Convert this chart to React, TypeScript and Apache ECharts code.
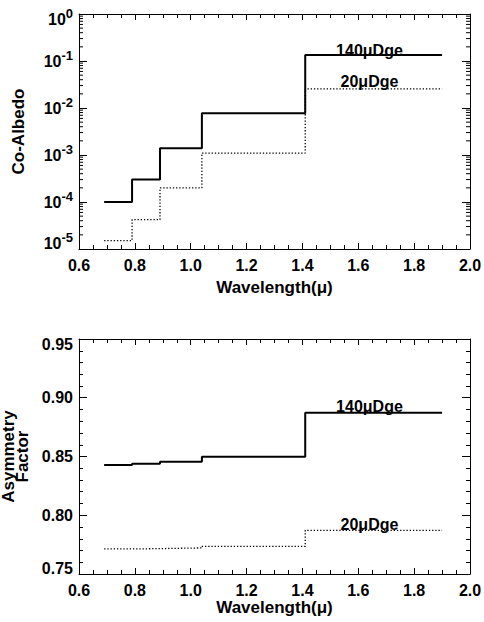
import React, { useEffect, useRef } from 'react';
import * as echarts from 'echarts';

// ---- data ----
const binEdges = [0.69, 0.79, 0.89, 1.04, 1.41, 1.9];
const coAlbedo140 = [1.0e-4, 3.0e-4, 1.4e-3, 7.7e-3, 0.134];
const coAlbedo20 = [1.5e-5, 4.2e-5, 2.0e-4, 1.1e-3, 0.0255];
const asym140 = [0.8428, 0.8439, 0.8456, 0.8498, 0.8873];
const asym20 = [0.7713, 0.7716, 0.7722, 0.7735, 0.7872];
const xRange = [0.6, 2.0];
const xStep = 0.2;
const coAlbedoRange = [1e-5, 1];
const logDecades = [-5, -4, -3, -2, -1];
const logMinorMultipliers = [2, 3, 4, 5, 6, 7, 8, 9];
const asymRange = [0.75, 0.95];
const asymStep = 0.05;
const seriesNames = ['140μDge', '20μDge'];
const labelX = 1.64;
const xTitle = 'Wavelength(μ)';
const yTitleTop = 'Co-Albedo';
const yTitleBottom = 'Asymmetry\nFactor';

const FONT = '"Liberation Sans", Arial, Helvetica, sans-serif';
const BLACK = '#000';

function stepData(edges: number[], vals: number[]) {
  return edges.map((x, i) => [x, vals[Math.min(i, vals.length - 1)]]);
}

const txt = { fontFamily: FONT, fontWeight: 'bold' as const, color: BLACK };

function xAxes(gridIndex: number, nameGap: number) {
  const common = {
    type: 'value',
    gridIndex,
    min: xRange[0],
    max: xRange[1],
    interval: xStep,
    splitLine: { show: false },
    axisLine: { show: true, onZero: false, lineStyle: { color: BLACK, width: 1 } },
    axisTick: { show: true, inside: true, length: 6, lineStyle: { color: BLACK } },
    minorTick: { show: true, splitNumber: 4, length: 4, lineStyle: { color: BLACK } },
  };
  return [
    {
      ...common,
      position: 'bottom',
      axisLabel: { ...txt, fontSize: 16, margin: 8, formatter: (v: number) => v.toFixed(1) },
      name: xTitle,
      nameLocation: 'middle',
      nameGap,
      nameMoveOverlap: false,
      nameTextStyle: { ...txt, fontSize: 17 },
    },
    { ...common, position: 'top', axisLabel: { show: false } },
  ];
}

const supRich = {
  p: { fontSize: 1, lineHeight: 38 },
  b: { ...txt, fontSize: 16, lineHeight: 28, height: 16, verticalAlign: 'middle' },
  s: { ...txt, fontSize: 13, height: 16, verticalAlign: 'top' },
  bt: { ...txt, fontSize: 16, height: 28, verticalAlign: 'bottom' },
  st: { ...txt, fontSize: 13, height: 36, verticalAlign: 'top' },
  bb: { ...txt, fontSize: 16, height: 26, verticalAlign: 'top' },
  sb: { ...txt, fontSize: 13, height: 14, verticalAlign: 'top' },
};

function logLabel(v: number) {
  const e = Math.round(Math.log10(v));
  if (v >= coAlbedoRange[1] * 0.999) return `{p| }{bt|10}{st|${e}}`;
  if (v <= coAlbedoRange[0] * 1.001) return `{p| }{bb|10}{sb|${e}}`;
  return `{b|10}{s|${e}}`;
}

function linLabel(v: number) {
  const s = v.toFixed(2);
  if (Math.abs(v - asymRange[1]) < 1e-6) return `{hi|${s}}`;
  if (Math.abs(v - asymRange[0]) < 1e-6) return `{lo|${s}}`;
  return `{n|${s}}`;
}

const linRich = {
  n: { ...txt, fontSize: 16 },
  hi: { ...txt, fontSize: 16, padding: [10, 0, 0, 0] },
  lo: { ...txt, fontSize: 16, padding: [0, 0, 12, 0] },
};

function yAxesTop() {
  const common = {
    type: 'log',
    logBase: 10,
    gridIndex: 0,
    min: coAlbedoRange[0],
    max: coAlbedoRange[1],
    splitLine: { show: false },
    axisLine: { show: true, onZero: false, lineStyle: { color: BLACK, width: 1 } },
    axisTick: { show: true, inside: true, length: 8, lineStyle: { color: BLACK } },
    minorTick: { show: false },
  };
  return [
    {
      ...common,
      position: 'left',
      axisLabel: { ...txt, fontSize: 16, margin: 6, formatter: logLabel, rich: supRich },
      name: yTitleTop,
      nameLocation: 'middle',
      nameGap: 52,
      nameMoveOverlap: false,
      nameTextStyle: { ...txt, fontSize: 17 },
    },
    { ...common, position: 'right', axisLabel: { show: false } },
  ];
}

function yAxesBottom() {
  const common = {
    type: 'value',
    gridIndex: 1,
    min: asymRange[0],
    max: asymRange[1],
    interval: asymStep,
    splitLine: { show: false },
    axisLine: { show: true, onZero: false, lineStyle: { color: BLACK, width: 1 } },
    axisTick: { show: true, inside: true, length: 8, lineStyle: { color: BLACK } },
    minorTick: { show: true, splitNumber: 5, length: 4, lineStyle: { color: BLACK } },
  };
  return [
    {
      ...common,
      position: 'left',
      axisLabel: { ...txt, fontSize: 16, margin: 6, formatter: linLabel, rich: linRich },
      name: yTitleBottom,
      nameLocation: 'middle',
      nameGap: 50,
      nameMoveOverlap: false,
      nameTextStyle: { ...txt, fontSize: 17, lineHeight: 14 },
    },
    { ...common, position: 'right', axisLabel: { show: false } },
  ];
}

function annot(text: string, y: number, dy: number) {
  return {
    silent: true,
    symbol: 'circle',
    symbolSize: 1,
    itemStyle: { color: 'rgba(0,0,0,0)' },
    label: { show: true, position: 'inside', offset: [0, dy], formatter: text, ...txt, fontSize: 16 },
    data: [{ coord: [labelX, y] }],
  };
}

// minor ticks of the log axis at k * 10^e (axis decoration, placed through the axis scale)
const logMinorTicks: number[][] = [];
logDecades.forEach((e) => logMinorMultipliers.forEach((k) => logMinorTicks.push([xRange[0], k * Math.pow(10, e)])));

const solid = { color: BLACK, width: 2 };
const dotted = { color: BLACK, width: 1.3, type: [1.3, 1.9] };

export default function App() {
  const ref = useRef<HTMLDivElement>(null);
  useEffect(() => {
    if (!ref.current) return;
    const chart = echarts.init(ref.current, undefined, { renderer: 'svg' });
    const n = coAlbedo140.length - 1;
    chart.setOption({
      animation: false,
      backgroundColor: '#fff',
      grid: [
        { left: 79, top: 14, width: 391, height: 235, containLabel: false, outerBoundsMode: 'none' },
        { left: 79, top: 339, width: 391, height: 235, containLabel: false, outerBoundsMode: 'none' },
      ],
      xAxis: [...xAxes(0, 30), ...xAxes(1, 25)],
      yAxis: [...yAxesTop(), ...yAxesBottom()],
      series: [
        {
          type: 'custom', xAxisIndex: 0, yAxisIndex: 0, silent: true, clip: false,
          data: logMinorTicks,
          renderItem: (_p: any, api: any) => {
            const v = api.value(1);
            const l = api.coord([xRange[0], v]);
            const r = api.coord([xRange[1], v]);
            const st = { stroke: BLACK, lineWidth: 1 };
            return {
              type: 'group',
              children: [
                { type: 'line', shape: { x1: l[0], y1: l[1], x2: l[0] + 4, y2: l[1] }, style: st },
                { type: 'line', shape: { x1: r[0] - 4, y1: r[1], x2: r[0], y2: r[1] }, style: st },
              ],
            };
          },
        },
        {
          type: 'line', xAxisIndex: 0, yAxisIndex: 0, step: 'end', symbol: 'none',
          data: stepData(binEdges, coAlbedo140), lineStyle: solid,
          markPoint: annot(seriesNames[0], coAlbedo140[n], -5),
        },
        {
          type: 'line', xAxisIndex: 0, yAxisIndex: 0, step: 'end', symbol: 'none',
          data: stepData(binEdges, coAlbedo20), lineStyle: dotted,
          markPoint: annot(seriesNames[1], coAlbedo20[n], -7),
        },
        {
          type: 'line', xAxisIndex: 2, yAxisIndex: 2, step: 'end', symbol: 'none',
          data: stepData(binEdges, asym140), lineStyle: solid,
          markPoint: annot(seriesNames[0], asym140[n], -6),
        },
        {
          type: 'line', xAxisIndex: 2, yAxisIndex: 2, step: 'end', symbol: 'none',
          data: stepData(binEdges, asym20), lineStyle: dotted,
          markPoint: annot(seriesNames[1], asym20[n], -6),
        },
      ],
    });
    return () => chart.dispose();
  }, []);
  return (
    <div
      ref={ref}
      style={{ position: 'fixed', left: 0, top: 0, width: 484, height: 622, background: '#fff' }}
    />
  );
}
